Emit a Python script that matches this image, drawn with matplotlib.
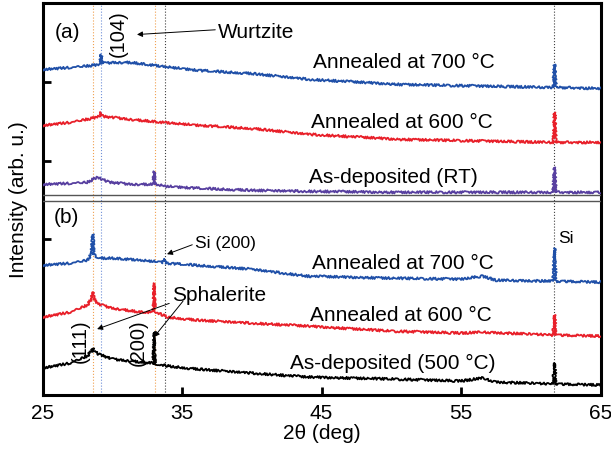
import numpy as np
import matplotlib
matplotlib.use("Agg")
import matplotlib.pyplot as plt

plt.rcParams['font.family'] = ['Liberation Sans', 'DejaVu Sans']

# 2theta positions (deg) and intensities (arb. u., offset stacked)
# panel (a)
a700_x = [25, 27, 28.5, 29.12, 29.2, 29.28, 30, 31.3, 32.5, 33.6, 36.3, 39.9, 44.2, 50.6, 57.8, 61.6, 61.7, 61.8, 65]
a700_y = [325, 327, 329, 330, 340, 331, 332, 332, 330, 328, 324, 321, 315, 310, 308, 307, 330, 307, 306]

a600_x = [25, 27, 28.5, 29.1, 29.2, 29.3, 30, 31.3, 33.6, 36.3, 39.9, 44.2, 50.6, 57.8, 61.6, 61.7, 61.8, 65]
a600_y = [269, 272, 276, 278, 282, 278, 277, 275, 272, 269, 266, 260, 255, 253, 252, 282, 252, 252]

aRT_x = [25, 27, 28.2, 28.9, 29.8, 31.4, 32.93, 33.0, 33.07, 33.9, 36.3, 39.9, 44.2, 50, 61.6, 61.7, 61.8, 65]
aRT_y = [210, 211, 212, 217, 212, 210, 210, 223, 210, 208, 206, 204, 203, 202, 202, 227, 202, 202]

# panel (b)
b700_x = [25, 27, 28.2, 28.5, 28.6, 28.7, 29.0, 30, 32, 33.6, 33.75, 33.9, 35, 40, 44, 50, 55, 56.5, 57.5, 61.6, 61.7, 61.8, 65]
b700_y = [129, 131, 134, 140, 160, 140, 136, 136, 134, 132, 135, 131, 130, 125, 118, 116, 115, 118, 114, 113, 146, 113, 112]

b600_x = [25, 27, 28.2, 28.5, 28.6, 28.7, 29.0, 30, 32, 32.93, 33.0, 33.07, 34, 36, 40, 44, 50, 55, 56.5, 61.6, 61.7, 61.8, 65]
b600_y = [77, 82, 89, 95, 102, 95, 90, 86, 82, 82, 111, 82, 77, 74, 71, 68, 63, 61, 62, 59, 79, 59, 58]

b500_x = [25, 27, 28.2, 28.5, 28.6, 28.7, 29.0, 30, 32, 32.93, 33.0, 33.07, 34, 36, 40, 44, 50, 55, 56.5, 57.5, 61.6, 61.7, 61.8, 65]
b500_y = [26, 31, 38, 43, 46, 43, 40, 35, 32, 31, 62, 30, 28, 25, 21, 17, 15, 13, 16, 12, 10, 31, 10, 9]

# reference peak positions (deg)
orange_lines = [28.64, 33.04]
blue_lines = [29.19]
black_lines = [33.76, 61.69]

fig = plt.figure(figsize=(6.11, 4.52), dpi=100)
ax = fig.add_axes([0.0696, 0.125, 0.9134, 0.866])

for x in orange_lines:
    ax.axvline(x, color='#f0a050', lw=0.8, ls=':', zorder=1)
for x in blue_lines:
    ax.axvline(x, color='#7090d8', lw=0.8, ls=':', zorder=1)
for x in black_lines:
    ax.axvline(x, color='#404040', lw=0.8, ls=':', zorder=1)

curves = [
    (a700_x, a700_y, '#2050a8'),
    (a600_x, a600_y, '#e8202a'),
    (aRT_x, aRT_y, '#5840a0'),
    (b700_x, b700_y, '#2050a8'),
    (b600_x, b600_y, '#e8202a'),
    (b500_x, b500_y, '#000000'),
]
for xs, ys, c in curves:
    ln, = ax.plot(xs, ys, color=c, lw=1.3, zorder=3)
    # noisy look of the raw scans
    ln.set_sketch_params(scale=1.2, length=2.0, randomness=2.0)

# panel separator
ax.axhline(199, color='#555555', lw=1.0, zorder=4)
ax.axhline(193, color='#555555', lw=1.0, zorder=4)

ax.set_xlim(25, 65)
ax.set_ylim(-0.5, 391.5)
ax.set_xticks([25, 35, 45, 55, 65])
ax.set_yticks([155, 233, 312])
ax.set_yticklabels([])
ax.tick_params(axis='both', direction='in', length=6, width=2, labelsize=15)
ax.tick_params(axis='x', pad=6)
for s in ax.spines.values():
    s.set_linewidth(2.2)
ax.set_xlabel('2θ (deg)', fontsize=15, labelpad=1)
ax.set_ylabel('Intensity (arb. u.)', fontsize=15, labelpad=7)

fs = 15
ax.text(25.85, 363, '(a)', fontsize=fs, va='center')
ax.text(25.8, 178, '(b)', fontsize=fs, va='center')

ax.text(44.39, 333, 'Annealed at 700 °C', fontsize=fs, va='center')
ax.text(44.25, 273, 'Annealed at 600 °C', fontsize=fs, va='center')
ax.text(44.10, 218, 'As-deposited (RT)', fontsize=fs, va='center')
ax.text(44.32, 132, 'Annealed at 700 °C', fontsize=fs, va='center')
ax.text(44.18, 80, 'Annealed at 600 °C', fontsize=fs, va='center')
ax.text(42.74, 32, 'As-deposited (500 °C)', fontsize=fs, va='center')

ax.text(30.41, 362, '(104)', fontsize=14.5, rotation=90, ha='center', va='center')
ax.text(27.69, 54, '(111)', fontsize=14.5, rotation=90, ha='center', va='center')
ax.text(31.85, 52, '(200)', fontsize=14.5, rotation=90, ha='center', va='center')
ax.text(61.95, 157, 'Si', fontsize=12.5, va='center')

arrow = dict(arrowstyle='-|>', color='black', lw=0.7, mutation_scale=8, shrinkA=0, shrinkB=0)
ax.annotate('Wurtzite', xy=(31.77, 360), xytext=(37.58, 363), fontsize=fs, va='center',
            arrowprops=dict(arrow, relpos=(0, 0.6)))
ax.annotate('Si (200)', xy=(33.92, 140), xytext=(35.93, 152), fontsize=12.5, va='center',
            arrowprops=dict(arrow, relpos=(0, 0.4)))
ax.annotate('Sphalerite', xy=(28.91, 65), xytext=(34.28, 100), fontsize=fs, va='center',
            arrowprops=dict(arrow, relpos=(0.02, 0.1)))
ax.annotate('', xy=(32.99, 57), xytext=(35.07, 93), arrowprops=arrow)

fig.savefig('out.png', dpi=100)
